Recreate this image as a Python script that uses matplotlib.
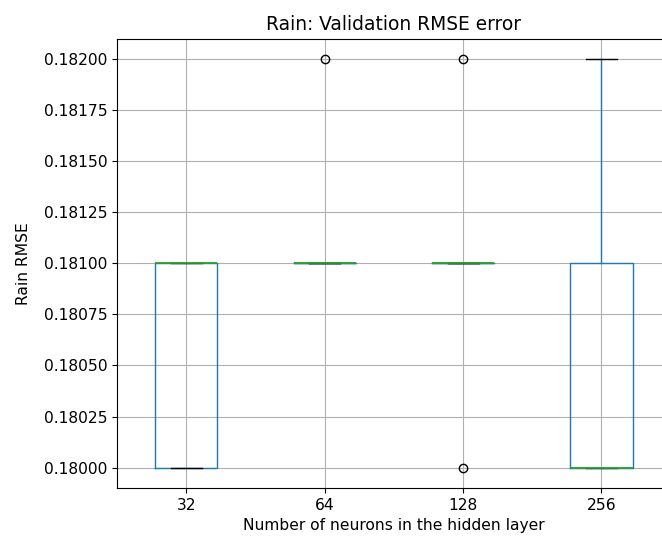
import pandas as pd
import matplotlib
matplotlib.use("Agg")
import matplotlib.pyplot as plt

neurons = ['32', '64', '128', '256']
rmse_32 = [0.180, 0.180, 0.181, 0.181, 0.181]
rmse_64 = [0.181, 0.181, 0.181, 0.181, 0.182]
rmse_128 = [0.180, 0.181, 0.181, 0.181, 0.182]
rmse_256 = [0.180, 0.180, 0.180, 0.181, 0.182]

df = pd.DataFrame(dict(zip(neurons, [rmse_32, rmse_64, rmse_128, rmse_256])))

fig = plt.figure(figsize=(6.62, 5.36), dpi=100)
# the right spine sits just past the picture edge, as in the reference crop
ax = fig.add_axes([0.177, 0.0896, 0.836, 0.838])
bp = df.boxplot(ax=ax, fontsize=11.2, return_type='dict')
for c in bp['caps']:
    c.set_zorder(3)
for m in bp['medians']:
    m.set_zorder(4)
    m.set_linewidth(1.3)
ax.set_title('Rain: Validation RMSE error', fontsize=13.4)
ax.set_ylabel('Rain RMSE', fontsize=11.2, labelpad=9)
ax.set_xlabel('Number of neurons in the hidden layer', fontsize=11.2)
fig.savefig('out.png', dpi=100)
